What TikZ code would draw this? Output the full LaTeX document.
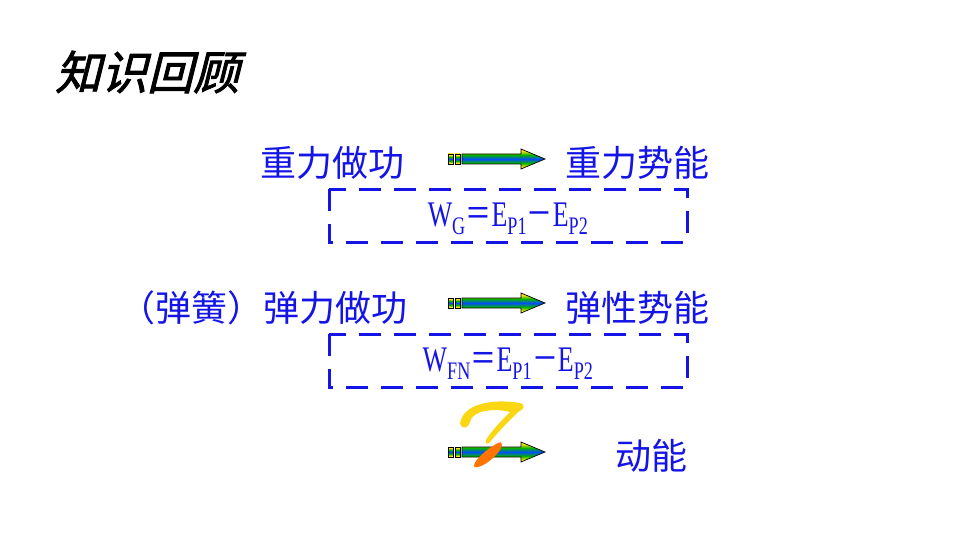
\documentclass[tikz,border=0pt]{standalone}
\usepackage{fontspec}
\setmainfont{Liberation Serif}
\newfontfamily\cjk{Noto Sans CJK SC}
\newfontfamily\cjkslant[FakeSlant=0.25,FakeBold=2]{Noto Sans CJK SC}
\definecolor{tblue}{RGB}{20,20,230}
\definecolor{ayel}{RGB}{250,225,20}
\pgfdeclareverticalshading{arrsh}{100bp}{color(0bp)=(ayel); color(30bp)=(ayel); color(40bp)=(green!70!black); color(50bp)=(blue!70!cyan); color(60bp)=(green!70!black); color(70bp)=(ayel); color(100bp)=(ayel)}
\tikzset{
  myarrow/.pic={
    \path[draw=black,line width=0.7pt,shading=arrsh]
      (14,-5) -- (73,-5) -- (73,-10) -- (97,0) -- (73,10) -- (73,5) -- (14,5) -- cycle;
    \foreach \xx in {0,7}{\path[draw=black,line width=0.7pt,shading=arrsh] (\xx,-5) rectangle (\xx+5,5);}
  }}
\begin{document}
\begin{tikzpicture}[x=1pt,y=-1pt,
  lbl/.style={text=tblue,font=\cjk\fontsize{36}{36}\selectfont,inner sep=0},
  frm/.style={text=tblue,font=\fontsize{36}{36}\selectfont,inner sep=0},
  box/.style={draw=tblue,line width=3pt,dash pattern=on 22pt off 13pt}]
\useasboundingbox (0,0) rectangle (960,540);
\node[anchor=west,inner sep=0,font=\cjkslant\fontsize{46}{46}\selectfont] (title) at (55,72) {知识回顾};
% row 1
\node[lbl,anchor=west] (a1) at (260,163) {重力做功};
\node[lbl,anchor=west] (b1) at (565,163) {重力势能};
\pic (r1) at (448,159) {myarrow};
\draw[box] (329,189) rectangle (687,242);
\node[frm] (f1) at (508,219) {\scalebox{0.72}[1]{W\textsubscript{G}{\cjk＝}E\textsubscript{P1}{\cjk－}E\textsubscript{P2}}};
% row 2
\node[lbl,anchor=east] (a2) at (408,308) {（弹簧）弹力做功};
\node[lbl,anchor=west] (b2) at (565,308) {弹性势能};
\pic (r2) at (448,303) {myarrow};
\draw[box] (329,334) rectangle (687,387);
\node[frm] (f2) at (508,364) {\scalebox{0.72}[1]{W\textsubscript{FN}{\cjk＝}E\textsubscript{P1}{\cjk－}E\textsubscript{P2}}};
% row 3
\pic (r3) at (448,452) {myarrow};
\node[lbl,anchor=west] (b3) at (615,456) {动能};
% question mark
\fill[ayel!90!orange] (460,424) .. controls (462,405) and (490,398) .. (520,403)
  .. controls (526,404) and (524,410) .. (518,412) .. controls (508,422) and (498,432) .. (490,442)
  .. controls (488,445) and (484,444) .. (486,440) .. controls (492,430) and (502,420) .. (510,412)
  .. controls (495,408) and (472,410) .. (470,422) .. controls (469,428) and (462,430) .. (460,424) -- cycle;
\fill[orange!90!red] (498,443) .. controls (504,440) and (503,448) .. (496,455)
  .. controls (488,464) and (475,470) .. (474,466) .. controls (474,460) and (488,448) .. (498,443) -- cycle;
\end{tikzpicture}
\end{document}
